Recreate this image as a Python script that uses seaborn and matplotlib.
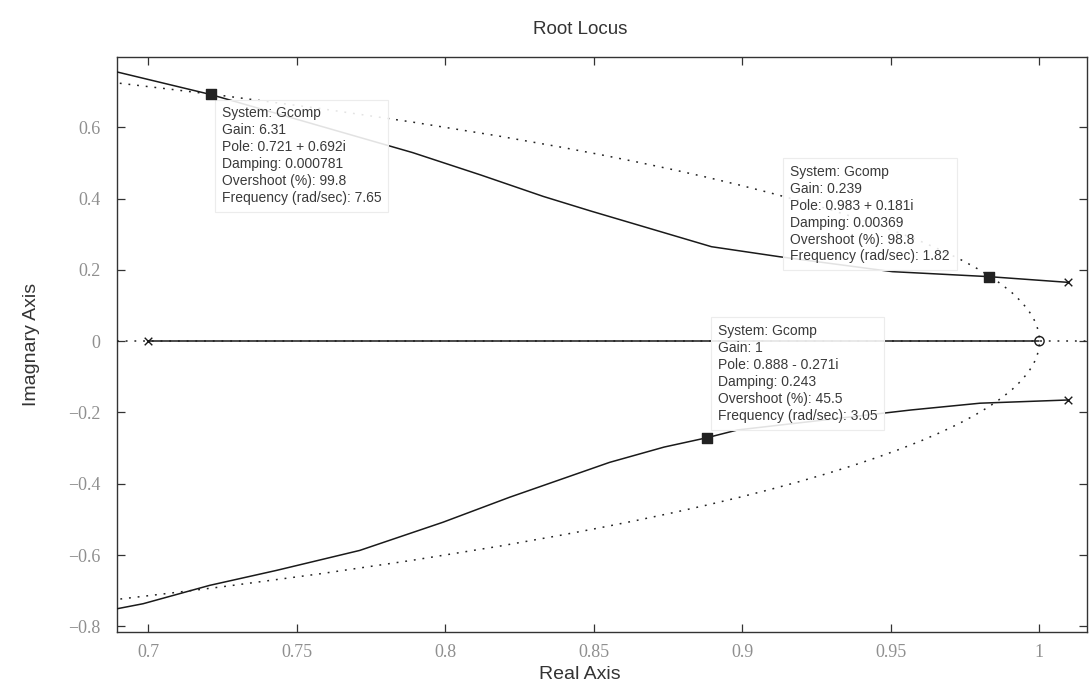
import numpy as np
import pandas as pd
import matplotlib
matplotlib.use("Agg")
import matplotlib.pyplot as plt
from matplotlib.patches import Circle
import seaborn as sns

# ---- data ----
upper_re = [0.6896, 0.721, 0.789, 0.812, 0.833, 0.849, 0.8896, 0.9124, 0.9505, 0.983, 1.0096]
upper_im = [0.755, 0.692, 0.529, 0.466, 0.406, 0.365, 0.265, 0.237, 0.195, 0.181, 0.165]
lower_re = [0.6896, 0.6983, 0.7207, 0.7432, 0.7712, 0.7992, 0.8216, 0.8553, 0.8737,
            0.888, 0.8984, 0.9568, 0.980, 1.0096]
lower_im = [-0.7505, -0.7365, -0.685, -0.643, -0.587, -0.508, -0.438, -0.340, -0.297,
            -0.271, -0.249, -0.193, -0.174, -0.165]
axis_re = [0.7, 1.0]
axis_im = [0.0, 0.0]
pole_re = [0.7, 1.0096, 1.0096]
pole_im = [0.0, 0.165, -0.165]
zero_re = [1.0]
zero_im = [0.0]
tip_re = [0.721, 0.983, 0.888]
tip_im = [0.692, 0.181, -0.271]
tip_text = [
    ["System: Gcomp", "Gain: 6.31", "Pole: 0.721 + 0.692i", "Damping: 0.000781",
     "Overshoot (%): 99.8", "Frequency (rad/sec): 7.65"],
    ["System: Gcomp", "Gain: 0.239", "Pole: 0.983 + 0.181i", "Damping: 0.00369",
     "Overshoot (%): 98.8", "Frequency (rad/sec): 1.82"],
    ["System: Gcomp", "Gain: 1", "Pole: 0.888 - 0.271i", "Damping: 0.243",
     "Overshoot (%): 45.5", "Frequency (rad/sec): 3.05"],
]
xticks = [0.7, 0.75, 0.8, 0.85, 0.9, 0.95, 1.0]
xtick_labels = ["0.7", "0.75", "0.8", "0.85", "0.9", "0.95", "1"]
yticks = [-0.8, -0.6, -0.4, -0.2, 0.0, 0.2, 0.4, 0.6]
ytick_labels = ["\u22120.8", "\u22120.6", "\u22120.4", "\u22120.2", "0", "0.2", "0.4", "0.6"]

sns.set_theme(style="white")
plt.rcParams["font.family"] = ["Liberation Sans", "DejaVu Sans"]

fig = plt.figure(figsize=(10.92, 6.92), dpi=100)
ax = fig.add_axes([117 / 1092, 1 - 631.7 / 692, 970 / 1092, (631.7 - 56.7) / 692])

dark = "#1a1a1a"

# dotted guides (unit circle and real axis)
circ = Circle((0, 0), 1.0, fill=False, linestyle=(0, (1.2, 4.5)), edgecolor="#222222",
              linewidth=1.1, zorder=4)
ax.add_patch(circ)
ax.axhline(0, xmin=0, xmax=1, color="#222222", linestyle=(0, (1.2, 4.5)), linewidth=1.1, zorder=4)

up = pd.DataFrame({"re": upper_re, "im": upper_im})
lo = pd.DataFrame({"re": lower_re, "im": lower_im})
ra = pd.DataFrame({"re": axis_re, "im": axis_im})
for df in (up, lo, ra):
    sns.lineplot(data=df, x="re", y="im", sort=False, estimator=None, color=dark,
                 linewidth=1.1, ax=ax, zorder=3)

ax.scatter(pole_re, pole_im, marker="x", s=30, color=dark, linewidths=1.0, zorder=7)
ax.scatter(zero_re, zero_im, marker="o", s=45, facecolors="none", edgecolors=dark,
           linewidths=1.0, zorder=7)
ax.scatter(tip_re, tip_im, marker="s", s=55, color="#222222", zorder=8)

offsets = [(11, -12), (-199, 112), (11, 114)]
for (x, y), lines, off in zip(zip(tip_re, tip_im), tip_text, offsets):
    ax.annotate("\n".join(lines), xy=(x, y), xytext=off, textcoords="offset pixels",
                ha="left", va="top", fontsize=10, color="#3a3a3a", linespacing=1.27,
                bbox=dict(boxstyle="square,pad=0.5", facecolor=(1, 1, 1, 0.88),
                          edgecolor="#ececec", linewidth=0.8),
                zorder=5)

ax.set_xlim(0.6895, 1.016)
ax.set_ylim(-0.815, 0.798)
ax.set_xticks(xticks)
ax.set_xticklabels(xtick_labels)
ax.set_yticks(yticks)
ax.set_yticklabels(ytick_labels)
ax.tick_params(direction="in", length=6, width=0.9, color="#333333", top=True, right=True,
               bottom=True, left=True, labelsize=13, labelcolor="#8f8f8f")
ax.tick_params(axis="y", pad=12)
ax.tick_params(axis="x", pad=9)
for lab in ax.get_xticklabels() + ax.get_yticklabels():
    lab.set_family(["Liberation Serif", "DejaVu Serif"])
for s in ax.spines.values():
    s.set_color("#333333")
    s.set_linewidth(1.0)
    s.set_visible(True)

ax.set_xlabel("Real Axis", fontsize=14, color="#333333", labelpad=4)
ax.xaxis.set_label_coords((580 - 117) / 970, -0.06)
ax.set_ylabel("Imagnary Axis", fontsize=14, color="#333333", labelpad=20)
fig.text(0.531, 0.958, "Root Locus", ha="center", va="center", fontsize=13.5, color="#333333")

fig.savefig("out.png", dpi=100)
